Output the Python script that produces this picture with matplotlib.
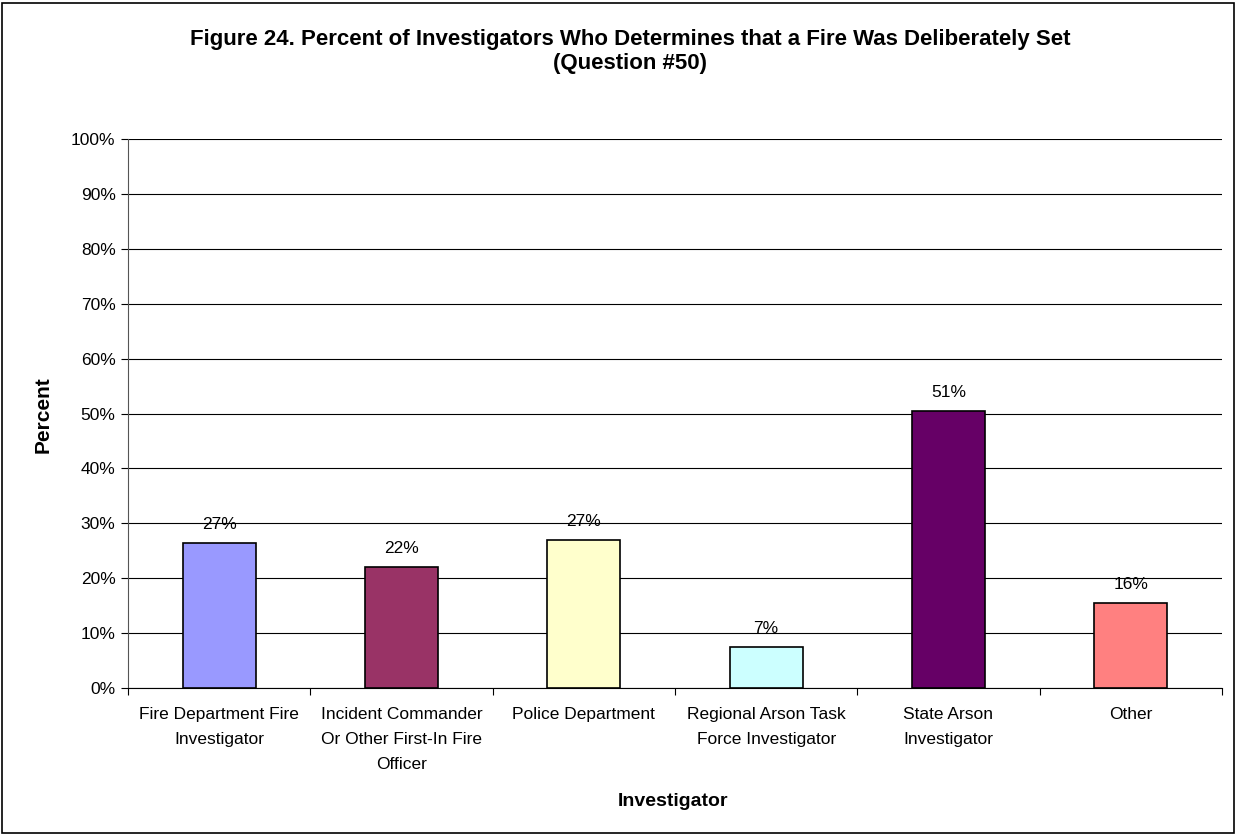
import matplotlib
matplotlib.use("Agg")
import matplotlib.pyplot as plt
from matplotlib.patches import Rectangle
import matplotlib.ticker as mticker

# Datos (porcentaje por tipo de investigador)
categorias = [
    "Fire Department Fire\nInvestigator",
    "Incident Commander\nOr Other First-In Fire\nOfficer",
    "Police Department",
    "Regional Arson Task\nForce Investigator",
    "State Arson\nInvestigator",
    "Other",
]
valores = [26.4, 22.0, 26.9, 7.4, 50.5, 15.5]
etiquetas = ["27%", "22%", "27%", "7%", "51%", "16%"]
colores = ["#9999FF", "#993366", "#FFFFCC", "#CCFFFF", "#660066", "#FF8080"]

plt.rcParams.update({
    "font.family": ["Liberation Sans", "DejaVu Sans"],
    "font.size": 12.5,
})

fig = plt.figure(figsize=(12.36, 8.36), dpi=100, facecolor="white")
ax = fig.add_axes([128 / 1236, 1 - 688 / 836, (1222 - 128) / 1236, (688 - 139) / 836])

# Marco exterior del gráfico, estilo Excel
fig.patches.append(Rectangle((0.002, 0.003), 0.996, 0.994, transform=fig.transFigure,
                             fill=False, edgecolor="black", linewidth=1.2))

x = range(len(categorias))
ax.bar(x, valores, width=0.4, color=colores, edgecolor="black", linewidth=1.2, zorder=3)

for i, (v, lab) in enumerate(zip(valores, etiquetas)):
    ax.annotate(lab, (i, v), xytext=(0, 8), textcoords="offset points",
                ha="center", va="bottom", fontsize=12.5, zorder=4)

ax.set_xlim(-0.5, len(categorias) - 0.5)
ax.set_ylim(0, 100)
ax.yaxis.set_major_locator(mticker.MultipleLocator(10))
ax.yaxis.set_major_formatter(mticker.FuncFormatter(lambda y, _: f"{y:.0f}%"))
ax.grid(axis="y", color="black", linewidth=0.8, zorder=0)

# Ticks del eje X en los bordes de cada categoría; etiquetas centradas
ax.set_xticks([i - 0.5 for i in range(len(categorias) + 1)])
ax.set_xticklabels([])
ax.set_xticks(list(x), minor=True)
ax.set_xticklabels(categorias, minor=True, fontsize=12.5, linespacing=1.8)
ax.tick_params(axis="x", which="minor", length=0, pad=14)
ax.tick_params(axis="x", which="major", length=5, width=0.8, direction="out")
ax.tick_params(axis="y", length=5, width=0.8, direction="out", labelsize=12.5, pad=4)

for s in ["top", "right"]:
    ax.spines[s].set_visible(False)
ax.spines["left"].set_color("#555555")
ax.spines["bottom"].set_color("black")

fig.text(630 / 1236, 1 - 39 / 836,
         "Figure 24. Percent of Investigators Who Determines that a Fire Was Deliberately Set",
         ha="center", va="center", fontsize=16, fontweight="bold")
fig.text(630 / 1236, 1 - 64 / 836, "(Question #50)",
         ha="center", va="center", fontsize=16, fontweight="bold")
fig.text(43 / 1236, 1 - 415 / 836, "Percent", rotation=90,
         ha="center", va="center", fontsize=15, fontweight="bold")
fig.text(673 / 1236, 1 - 802 / 836, "Investigator",
         ha="center", va="center", fontsize=14, fontweight="bold")

fig.savefig("out.png", dpi=100, facecolor="white")
